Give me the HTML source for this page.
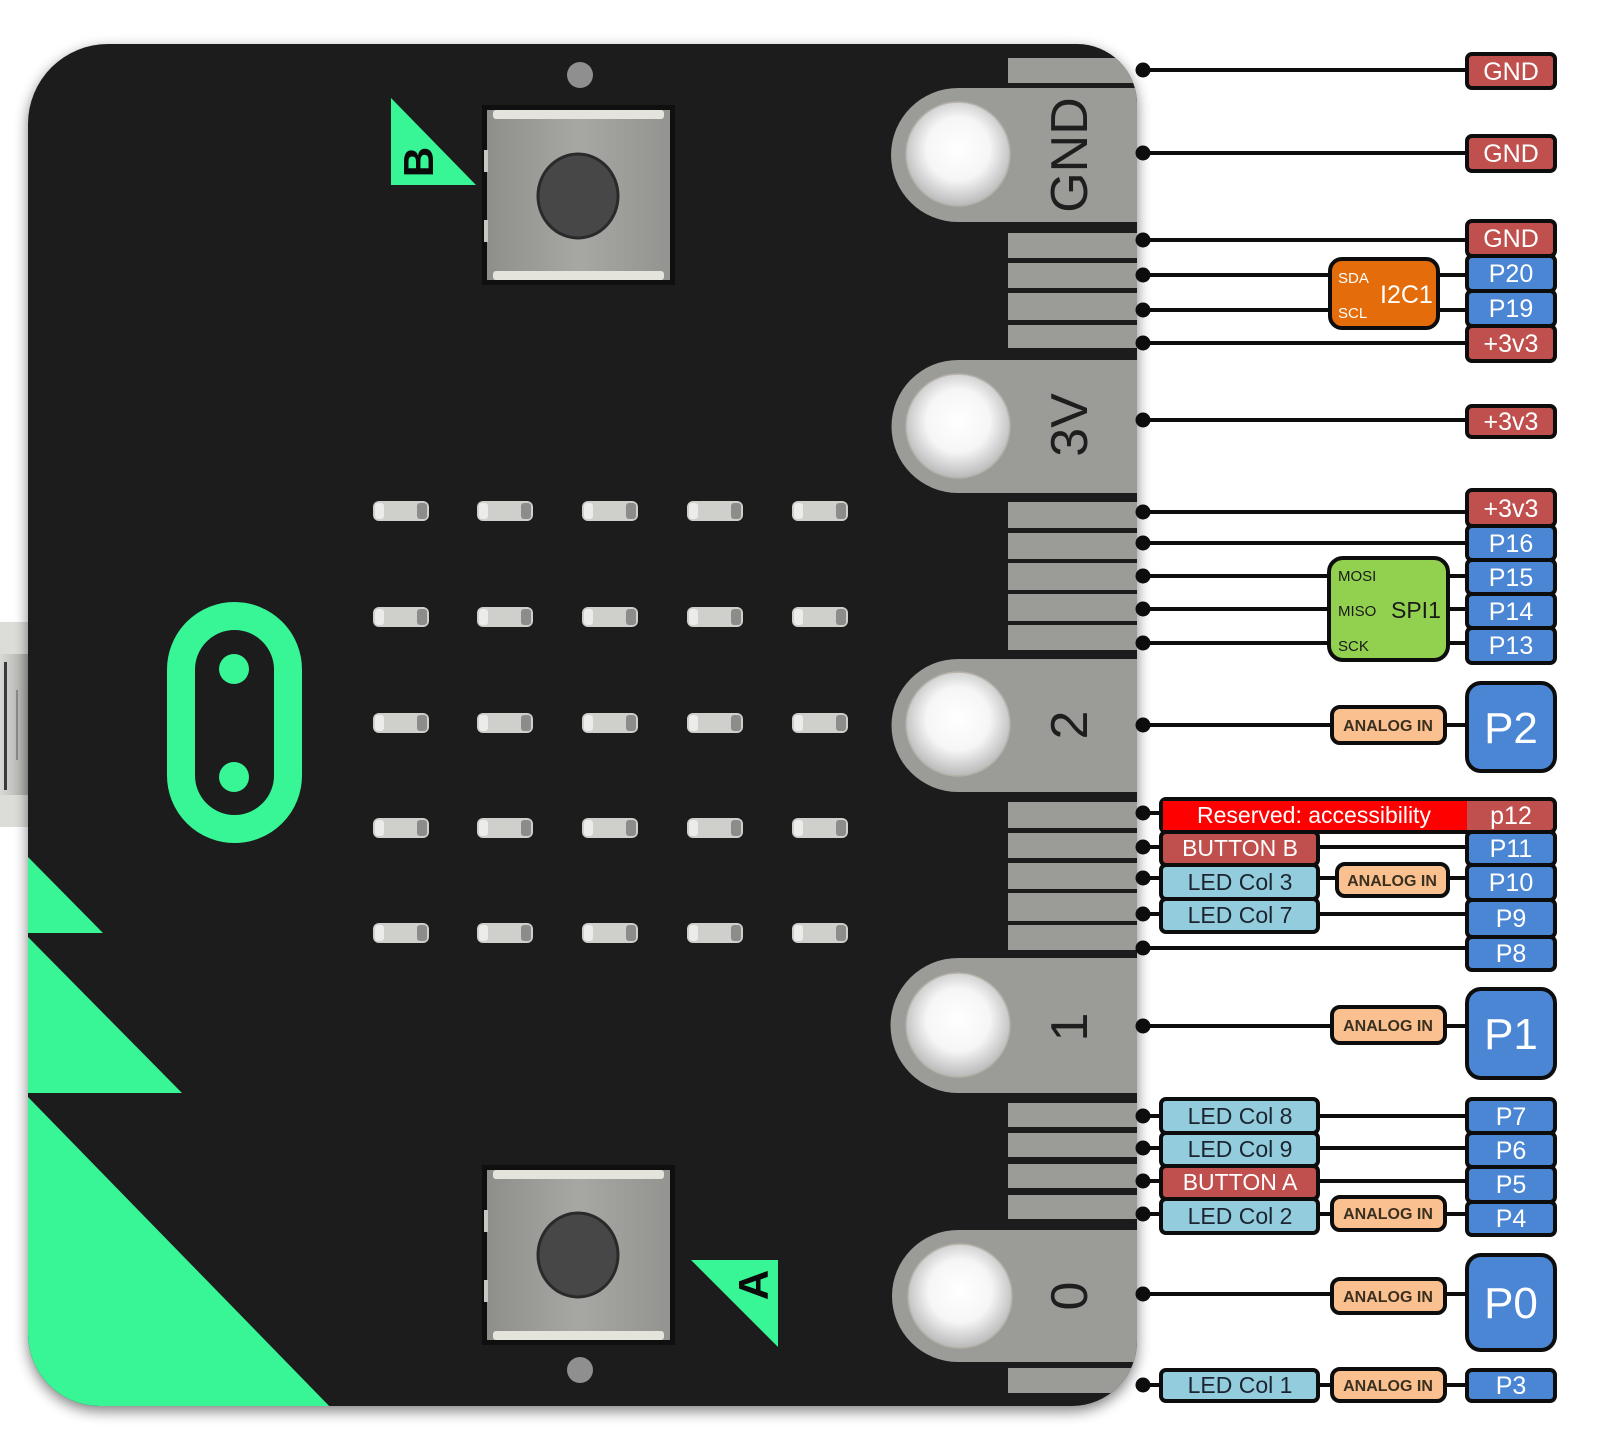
<!DOCTYPE html>
<html><head><meta charset="utf-8"><style>
html,body{margin:0;padding:0;background:#fff;}
svg{display:block;}
text{font-family:"Liberation Sans",Arial,sans-serif;}
</style></head><body>
<svg width="1600" height="1442" viewBox="0 0 1600 1442" xmlns="http://www.w3.org/2000/svg">
<defs>
 <filter id="sh" x="-5%" y="-5%" width="110%" height="110%">
  <feGaussianBlur in="SourceAlpha" stdDeviation="7"/>
  <feOffset dx="0" dy="5"/>
  <feComponentTransfer><feFuncA type="linear" slope="0.5"/></feComponentTransfer>
  <feMerge><feMergeNode/><feMergeNode in="SourceGraphic"/></feMerge>
 </filter>
 <clipPath id="bc"><path d="M108 44 H1077 A60 60 0 0 1 1137 104 V1341 A65 65 0 0 1 1072 1406 H100 A72 72 0 0 1 28 1334 V124 A80 80 0 0 1 108 44 Z"/></clipPath>
 <radialGradient id="hole" cx="0.5" cy="0.45" r="0.55">
  <stop offset="0" stop-color="#ffffff"/><stop offset="0.55" stop-color="#f6f6f6"/><stop offset="1" stop-color="#b9b9b9"/>
 </radialGradient>
 <linearGradient id="btn" x1="0" y1="0" x2="1" y2="0">
  <stop offset="0" stop-color="#8e8e8b"/><stop offset="0.5" stop-color="#a7a7a4"/><stop offset="1" stop-color="#939390"/>
 </linearGradient>
 <linearGradient id="usb" x1="0" y1="0" x2="1" y2="0">
  <stop offset="0" stop-color="#d8d8d4"/><stop offset="1" stop-color="#a9a9a6"/>
 </linearGradient>
</defs>

<!-- USB connector -->
<rect x="0" y="622" width="30" height="205" fill="url(#usb)"/>
<rect x="0" y="622" width="30" height="32" fill="#dcdcd8"/>
<rect x="0" y="795" width="30" height="32" fill="#dcdcd8"/>
<rect x="4" y="662" width="3" height="128" fill="#3a3a3a"/>
<rect x="16" y="690" width="2" height="70" fill="#8a8a8a"/>

<!-- Board -->
<path d="M108 44 H1077 A60 60 0 0 1 1137 104 V1341 A65 65 0 0 1 1072 1406 H100 A72 72 0 0 1 28 1334 V124 A80 80 0 0 1 108 44 Z" fill="#1a1a1a" filter="url(#sh)"/>

<g clip-path="url(#bc)">
 <!-- green triangles -->
 <polygon points="28,857 28,933 103,933" fill="#38f596"/>
 <polygon points="28,937 28,1093 182,1093" fill="#38f596"/>
 <polygon points="28,1097 28,1412 335,1412" fill="#38f596"/>

 <!-- edge strips -->
 <g fill="#9b9b98">
  <rect x="1008" y="58" width="135" height="25"/>
  <rect x="1008" y="233" width="135" height="25"/>
  <rect x="1008" y="263" width="135" height="25"/>
  <rect x="1008" y="293" width="135" height="27"/>
  <rect x="1008" y="325" width="135" height="23"/>
  <rect x="1008" y="502" width="135" height="26"/>
  <rect x="1008" y="533" width="135" height="26"/>
  <rect x="1008" y="563" width="135" height="27"/>
  <rect x="1008" y="594" width="135" height="27"/>
  <rect x="1008" y="625" width="135" height="25"/>
  <rect x="1008" y="802" width="135" height="26"/>
  <rect x="1008" y="833" width="135" height="25"/>
  <rect x="1008" y="863" width="135" height="26"/>
  <rect x="1008" y="893" width="135" height="28"/>
  <rect x="1008" y="925" width="135" height="25"/>
  <rect x="1008" y="1103" width="135" height="24"/>
  <rect x="1008" y="1133" width="135" height="24"/>
  <rect x="1008" y="1164" width="135" height="24"/>
  <rect x="1008" y="1195" width="135" height="24"/>
  <rect x="1008" y="1368" width="135" height="25"/>
  <!-- big pads -->
  <path d="M958 88 H1143 V222 H958 A67 67 0 0 1 958 88 Z"/>
  <path d="M958 360 H1143 V493 H958 A66.5 66.5 0 0 1 958 360 Z"/>
  <path d="M958 659 H1143 V792 H958 A66.5 66.5 0 0 1 958 659 Z"/>
  <path d="M958 958 H1143 V1093 H958 A67.5 67.5 0 0 1 958 958 Z"/>
  <path d="M958 1230 H1143 V1362 H958 A66 66 0 0 1 958 1230 Z"/>
 </g>
</g>

<!-- holes -->
<g fill="url(#hole)" stroke="#b5b1a8" stroke-width="1.5">
 <circle cx="958" cy="154" r="52"/>
 <circle cx="958" cy="426" r="52"/>
 <circle cx="958" cy="724" r="52"/>
 <circle cx="958" cy="1025" r="52"/>
 <circle cx="960" cy="1296" r="52"/>
</g>

<!-- pad labels -->
<g fill="#1e1e1e" font-size="52" text-anchor="middle">
 <text transform="translate(1068,155) rotate(-90)" y="19">GND</text>
 <text transform="translate(1068,425) rotate(-90)" y="19">3V</text>
 <text transform="translate(1068,725) rotate(-90)" y="19">2</text>
 <text transform="translate(1068,1027) rotate(-90)" y="19">1</text>
 <text transform="translate(1068,1296) rotate(-90)" y="19">0</text>
</g>

<!-- Buttons -->
<g>
 <rect x="482" y="105" width="193" height="180" fill="#0f0f0f"/>
 <rect x="487" y="110" width="183" height="170" fill="url(#btn)"/>
 <rect x="493" y="110" width="171" height="9" rx="3" fill="#e4e4dc"/>
 <rect x="493" y="271" width="171" height="9" rx="3" fill="#e4e4dc"/>
 <rect x="484" y="150" width="4" height="22" fill="#c8c8c2"/>
 <rect x="484" y="220" width="4" height="22" fill="#c8c8c2"/>
 <ellipse cx="578" cy="196" rx="40" ry="42" fill="#474747" stroke="#2a2a2a" stroke-width="3"/>
 <ellipse cx="580" cy="75" rx="13" ry="13" fill="#8f8f8f"/>
</g>
<g>
 <rect x="482" y="1165" width="193" height="180" fill="#0f0f0f"/>
 <rect x="487" y="1170" width="183" height="170" fill="url(#btn)"/>
 <rect x="493" y="1170" width="171" height="9" rx="3" fill="#e4e4dc"/>
 <rect x="493" y="1331" width="171" height="9" rx="3" fill="#e4e4dc"/>
 <rect x="484" y="1210" width="4" height="22" fill="#c8c8c2"/>
 <rect x="484" y="1280" width="4" height="22" fill="#c8c8c2"/>
 <ellipse cx="578" cy="1255" rx="40" ry="42" fill="#474747" stroke="#2a2a2a" stroke-width="3"/>
 <ellipse cx="580" cy="1370" rx="13" ry="13" fill="#8f8f8f"/>
</g>

<!-- B / A triangles -->
<polygon points="391,98 391,185 476,185" fill="#38f596"/>
<text transform="translate(418,162) rotate(-90)" y="15" font-size="42" font-weight="bold" text-anchor="middle" fill="#0a0a0a">B</text>
<polygon points="691,1260 778,1260 778,1347" fill="#38f596"/>
<text transform="translate(753,1285) rotate(-90)" y="15" font-size="42" font-weight="bold" text-anchor="middle" fill="#0a0a0a">A</text>

<!-- logo -->
<rect x="181" y="616" width="107" height="213" rx="53.5" fill="none" stroke="#38f596" stroke-width="28"/>
<circle cx="234" cy="669" r="15" fill="#38f596"/>
<circle cx="234" cy="777" r="15" fill="#38f596"/>

<!-- LEDs -->
<g id="leds">
 <g fill="#cfcfcc">
  <rect x="373" y="501" width="56" height="20" rx="6"/><rect x="477" y="501" width="56" height="20" rx="6"/><rect x="582" y="501" width="56" height="20" rx="6"/><rect x="687" y="501" width="56" height="20" rx="6"/><rect x="792" y="501" width="56" height="20" rx="6"/>
  <rect x="373" y="607" width="56" height="20" rx="6"/><rect x="477" y="607" width="56" height="20" rx="6"/><rect x="582" y="607" width="56" height="20" rx="6"/><rect x="687" y="607" width="56" height="20" rx="6"/><rect x="792" y="607" width="56" height="20" rx="6"/>
  <rect x="373" y="713" width="56" height="20" rx="6"/><rect x="477" y="713" width="56" height="20" rx="6"/><rect x="582" y="713" width="56" height="20" rx="6"/><rect x="687" y="713" width="56" height="20" rx="6"/><rect x="792" y="713" width="56" height="20" rx="6"/>
  <rect x="373" y="818" width="56" height="20" rx="6"/><rect x="477" y="818" width="56" height="20" rx="6"/><rect x="582" y="818" width="56" height="20" rx="6"/><rect x="687" y="818" width="56" height="20" rx="6"/><rect x="792" y="818" width="56" height="20" rx="6"/>
  <rect x="373" y="923" width="56" height="20" rx="6"/><rect x="477" y="923" width="56" height="20" rx="6"/><rect x="582" y="923" width="56" height="20" rx="6"/><rect x="687" y="923" width="56" height="20" rx="6"/><rect x="792" y="923" width="56" height="20" rx="6"/>
 </g>
 <g fill="#8c8c8a">
  <rect x="417" y="503" width="10" height="16" rx="3"/><rect x="521" y="503" width="10" height="16" rx="3"/><rect x="626" y="503" width="10" height="16" rx="3"/><rect x="731" y="503" width="10" height="16" rx="3"/><rect x="836" y="503" width="10" height="16" rx="3"/>
  <rect x="417" y="609" width="10" height="16" rx="3"/><rect x="521" y="609" width="10" height="16" rx="3"/><rect x="626" y="609" width="10" height="16" rx="3"/><rect x="731" y="609" width="10" height="16" rx="3"/><rect x="836" y="609" width="10" height="16" rx="3"/>
  <rect x="417" y="715" width="10" height="16" rx="3"/><rect x="521" y="715" width="10" height="16" rx="3"/><rect x="626" y="715" width="10" height="16" rx="3"/><rect x="731" y="715" width="10" height="16" rx="3"/><rect x="836" y="715" width="10" height="16" rx="3"/>
  <rect x="417" y="820" width="10" height="16" rx="3"/><rect x="521" y="820" width="10" height="16" rx="3"/><rect x="626" y="820" width="10" height="16" rx="3"/><rect x="731" y="820" width="10" height="16" rx="3"/><rect x="836" y="820" width="10" height="16" rx="3"/>
  <rect x="417" y="925" width="10" height="16" rx="3"/><rect x="521" y="925" width="10" height="16" rx="3"/><rect x="626" y="925" width="10" height="16" rx="3"/><rect x="731" y="925" width="10" height="16" rx="3"/><rect x="836" y="925" width="10" height="16" rx="3"/>
 </g>
 <g fill="#ececea">
  <rect x="375" y="503" width="9" height="16" rx="3"/><rect x="479" y="503" width="9" height="16" rx="3"/><rect x="584" y="503" width="9" height="16" rx="3"/><rect x="689" y="503" width="9" height="16" rx="3"/><rect x="794" y="503" width="9" height="16" rx="3"/>
  <rect x="375" y="609" width="9" height="16" rx="3"/><rect x="479" y="609" width="9" height="16" rx="3"/><rect x="584" y="609" width="9" height="16" rx="3"/><rect x="689" y="609" width="9" height="16" rx="3"/><rect x="794" y="609" width="9" height="16" rx="3"/>
  <rect x="375" y="715" width="9" height="16" rx="3"/><rect x="479" y="715" width="9" height="16" rx="3"/><rect x="584" y="715" width="9" height="16" rx="3"/><rect x="689" y="715" width="9" height="16" rx="3"/><rect x="794" y="715" width="9" height="16" rx="3"/>
  <rect x="375" y="820" width="9" height="16" rx="3"/><rect x="479" y="820" width="9" height="16" rx="3"/><rect x="584" y="820" width="9" height="16" rx="3"/><rect x="689" y="820" width="9" height="16" rx="3"/><rect x="794" y="820" width="9" height="16" rx="3"/>
  <rect x="375" y="925" width="9" height="16" rx="3"/><rect x="479" y="925" width="9" height="16" rx="3"/><rect x="584" y="925" width="9" height="16" rx="3"/><rect x="689" y="925" width="9" height="16" rx="3"/><rect x="794" y="925" width="9" height="16" rx="3"/>
 </g>
</g>

<!-- connector lines -->
<g stroke="#0d0d0d" stroke-width="4">
 <line x1="1143" y1="70" x2="1467" y2="70"/>
 <line x1="1143" y1="153" x2="1467" y2="153"/>
 <line x1="1143" y1="240" x2="1467" y2="240"/>
 <line x1="1143" y1="275" x2="1467" y2="275"/>
 <line x1="1143" y1="310" x2="1467" y2="310"/>
 <line x1="1143" y1="343" x2="1467" y2="343"/>
 <line x1="1143" y1="420" x2="1467" y2="420"/>
 <line x1="1143" y1="512" x2="1467" y2="512"/>
 <line x1="1143" y1="543" x2="1467" y2="543"/>
 <line x1="1143" y1="576" x2="1467" y2="576"/>
 <line x1="1143" y1="609" x2="1467" y2="609"/>
 <line x1="1143" y1="643" x2="1467" y2="643"/>
 <line x1="1143" y1="725" x2="1467" y2="725"/>
 <line x1="1143" y1="813" x2="1467" y2="813"/>
 <line x1="1143" y1="847" x2="1467" y2="847"/>
 <line x1="1143" y1="878" x2="1467" y2="878"/>
 <line x1="1143" y1="914" x2="1467" y2="914"/>
 <line x1="1143" y1="948" x2="1467" y2="948"/>
 <line x1="1143" y1="1026" x2="1467" y2="1026"/>
 <line x1="1143" y1="1116" x2="1467" y2="1116"/>
 <line x1="1143" y1="1148" x2="1467" y2="1148"/>
 <line x1="1143" y1="1181" x2="1467" y2="1181"/>
 <line x1="1143" y1="1214" x2="1467" y2="1214"/>
 <line x1="1143" y1="1294" x2="1467" y2="1294"/>
 <line x1="1143" y1="1385" x2="1467" y2="1385"/>
</g>
<g fill="#0d0d0d">
 <circle cx="1143" cy="70" r="7.5"/><circle cx="1143" cy="153" r="7.5"/><circle cx="1143" cy="240" r="7.5"/><circle cx="1143" cy="275" r="7.5"/><circle cx="1143" cy="310" r="7.5"/><circle cx="1143" cy="343" r="7.5"/><circle cx="1143" cy="420" r="7.5"/>
 <circle cx="1143" cy="512" r="7.5"/><circle cx="1143" cy="543" r="7.5"/><circle cx="1143" cy="576" r="7.5"/><circle cx="1143" cy="609" r="7.5"/><circle cx="1143" cy="643" r="7.5"/><circle cx="1143" cy="725" r="7.5"/>
 <circle cx="1143" cy="813" r="7.5"/><circle cx="1143" cy="847" r="7.5"/><circle cx="1143" cy="878" r="7.5"/><circle cx="1143" cy="914" r="7.5"/><circle cx="1143" cy="948" r="7.5"/><circle cx="1143" cy="1026" r="7.5"/>
 <circle cx="1143" cy="1116" r="7.5"/><circle cx="1143" cy="1148" r="7.5"/><circle cx="1143" cy="1181" r="7.5"/><circle cx="1143" cy="1214" r="7.5"/><circle cx="1143" cy="1294" r="7.5"/><circle cx="1143" cy="1385" r="7.5"/>
</g>

<!-- I2C1 and SPI1 blocks -->
<rect x="1330" y="259" width="108" height="69" rx="12" fill="#e46c0a" stroke="#0d0d0d" stroke-width="4"/>
<g fill="#fff">
 <text x="1338" y="283" font-size="15">SDA</text>
 <text x="1338" y="318" font-size="15">SCL</text>
 <text x="1380" y="303" font-size="25">I2C1</text>
</g>
<rect x="1329" y="558" width="119" height="102" rx="14" fill="#92d050" stroke="#0d0d0d" stroke-width="4"/>
<g fill="#1a1a1a">
 <text x="1338" y="581" font-size="15">MOSI</text>
 <text x="1338" y="616" font-size="15">MISO</text>
 <text x="1338" y="651" font-size="15">SCK</text>
 <text x="1391" y="618" font-size="23">SPI1</text>
</g>

<!-- Right pin labels -->
<g stroke="#0d0d0d" stroke-width="4">
 <rect x="1467" y="54" width="88" height="34" rx="5" fill="#c0504d"/>
 <rect x="1467" y="136" width="88" height="35" rx="5" fill="#c0504d"/>
 <rect x="1467" y="221" width="88" height="35" rx="5" fill="#c0504d"/>
 <rect x="1467" y="256" width="88" height="35" rx="5" fill="#4a86d4"/>
 <rect x="1467" y="291" width="88" height="35" rx="5" fill="#4a86d4"/>
 <rect x="1467" y="326" width="88" height="35" rx="5" fill="#c0504d"/>
 <rect x="1467" y="406" width="88" height="31" rx="5" fill="#c0504d"/>
 <rect x="1467" y="490" width="88" height="36" rx="5" fill="#c0504d"/>
 <rect x="1467" y="526" width="88" height="34" rx="5" fill="#4a86d4"/>
 <rect x="1467" y="560" width="88" height="34" rx="5" fill="#4a86d4"/>
 <rect x="1467" y="594" width="88" height="34" rx="5" fill="#4a86d4"/>
 <rect x="1467" y="628" width="88" height="35" rx="5" fill="#4a86d4"/>
 <rect x="1467" y="683" width="88" height="88" rx="14" fill="#4a86d4"/>
 <rect x="1467" y="832" width="88" height="33" rx="5" fill="#4a86d4"/>
 <rect x="1467" y="865" width="88" height="35" rx="5" fill="#4a86d4"/>
 <rect x="1467" y="900" width="88" height="37" rx="5" fill="#4a86d4"/>
 <rect x="1467" y="937" width="88" height="33" rx="5" fill="#4a86d4"/>
 <rect x="1467" y="989" width="88" height="89" rx="14" fill="#4a86d4"/>
 <rect x="1467" y="1099" width="88" height="34" rx="5" fill="#4a86d4"/>
 <rect x="1467" y="1133" width="88" height="34" rx="5" fill="#4a86d4"/>
 <rect x="1467" y="1167" width="88" height="35" rx="5" fill="#4a86d4"/>
 <rect x="1467" y="1202" width="88" height="33" rx="5" fill="#4a86d4"/>
 <rect x="1467" y="1255" width="88" height="95" rx="14" fill="#4a86d4"/>
 <rect x="1467" y="1370" width="88" height="31" rx="5" fill="#4a86d4"/>
 <!-- reserved frame -->
 <rect x="1161" y="799" width="394" height="33" rx="5" fill="#c0504d"/>
</g>
<rect x="1163" y="801" width="304" height="29" fill="#ff0000"/>

<g fill="#fff" font-size="25" text-anchor="middle">
 <text x="1511" y="80">GND</text>
 <text x="1511" y="162">GND</text>
 <text x="1511" y="247">GND</text>
 <text x="1511" y="282">P20</text>
 <text x="1511" y="317">P19</text>
 <text x="1511" y="352">+3v3</text>
 <text x="1511" y="430">+3v3</text>
 <text x="1511" y="517">+3v3</text>
 <text x="1511" y="552">P16</text>
 <text x="1511" y="586">P15</text>
 <text x="1511" y="620">P14</text>
 <text x="1511" y="654">P13</text>
 <text x="1511" y="824">p12</text>
 <text x="1511" y="857">P11</text>
 <text x="1511" y="891">P10</text>
 <text x="1511" y="927">P9</text>
 <text x="1511" y="962">P8</text>
 <text x="1511" y="1125">P7</text>
 <text x="1511" y="1159">P6</text>
 <text x="1511" y="1193">P5</text>
 <text x="1511" y="1227">P4</text>
 <text x="1511" y="1394">P3</text>
 <text x="1511" y="743" font-size="44">P2</text>
 <text x="1511" y="1049" font-size="44">P1</text>
 <text x="1511" y="1318" font-size="44">P0</text>
 <text x="1314" y="823" font-size="23">Reserved: accessibility</text>
</g>

<!-- Left function labels -->
<g stroke="#0d0d0d" stroke-width="4">
 <rect x="1161" y="832" width="157" height="33" rx="5" fill="#c0504d"/>
 <rect x="1161" y="865" width="157" height="34" rx="5" fill="#93cddd"/>
 <rect x="1161" y="899" width="157" height="33" rx="5" fill="#93cddd"/>
 <rect x="1161" y="1099" width="157" height="34" rx="5" fill="#93cddd"/>
 <rect x="1161" y="1133" width="157" height="33" rx="5" fill="#93cddd"/>
 <rect x="1161" y="1166" width="157" height="33" rx="5" fill="#c0504d"/>
 <rect x="1161" y="1199" width="157" height="34" rx="5" fill="#93cddd"/>
 <rect x="1161" y="1370" width="157" height="31" rx="5" fill="#93cddd"/>
 <!-- ANALOG IN -->
 <rect x="1332" y="707" width="113" height="36" rx="8" fill="#fbc08f"/>
 <rect x="1337" y="864" width="111" height="32" rx="8" fill="#fbc08f"/>
 <rect x="1332" y="1007" width="113" height="36" rx="8" fill="#fbc08f"/>
 <rect x="1332" y="1197" width="113" height="33" rx="8" fill="#fbc08f"/>
 <rect x="1332" y="1279" width="113" height="34" rx="8" fill="#fbc08f"/>
 <rect x="1332" y="1369" width="113" height="32" rx="8" fill="#fbc08f"/>
</g>
<g font-size="23" text-anchor="middle">
 <text x="1240" y="856" fill="#fff">BUTTON B</text>
 <text x="1240" y="890" fill="#1c2430">LED Col 3</text>
 <text x="1240" y="923" fill="#1c2430">LED Col 7</text>
 <text x="1240" y="1124" fill="#1c2430">LED Col 8</text>
 <text x="1240" y="1157" fill="#1c2430">LED Col 9</text>
 <text x="1240" y="1190" fill="#fff">BUTTON A</text>
 <text x="1240" y="1224" fill="#1c2430">LED Col 2</text>
 <text x="1240" y="1393" fill="#1c2430">LED Col 1</text>
</g>
<g font-size="16" font-weight="bold" text-anchor="middle" fill="#3a3020">
 <text x="1388" y="731">ANALOG IN</text>
 <text x="1392" y="886">ANALOG IN</text>
 <text x="1388" y="1031">ANALOG IN</text>
 <text x="1388" y="1219">ANALOG IN</text>
 <text x="1388" y="1302">ANALOG IN</text>
 <text x="1388" y="1391">ANALOG IN</text>
</g>
</svg>
</body></html>
